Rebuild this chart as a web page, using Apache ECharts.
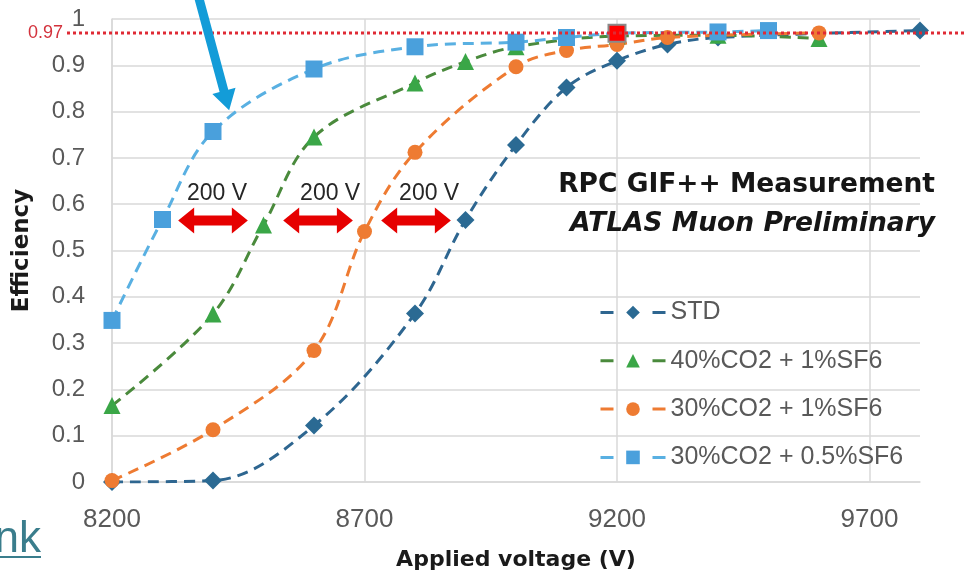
<!DOCTYPE html>
<html>
<head>
<meta charset="utf-8">
<script src="https://cdn.jsdelivr.net/npm/echarts@6/dist/echarts.min.js"></script>
<style>
  html, body { margin: 0; padding: 0; background: #ffffff; }
  #chart { width: 966px; height: 574px; }
</style>
</head>
<body>
<div id="chart"></div>
<script>
// Gas mixtures in legend order
const seriesNames = ['STD', '40%CO2 + 1%SF6', '30%CO2 + 1%SF6', '30%CO2 + 0.5%SF6'];

// Applied voltage (V) and efficiency for each mixture
const stdVoltage = [8200, 8400, 8600, 8800, 8900, 9000, 9100, 9200, 9300, 9400, 9800];
const stdEfficiency = [0.0, 0.003, 0.122, 0.364, 0.566, 0.728, 0.852, 0.910, 0.945, 0.960, 0.975];

const co2p40sf6p1Voltage = [8200, 8400, 8500, 8600, 8800, 8900, 9000, 9200, 9400, 9600];
const co2p40sf6p1Efficiency = [0.165, 0.363, 0.555, 0.745, 0.862, 0.908, 0.940, 0.963, 0.965, 0.958];

const co2p30sf6p1Voltage = [8200, 8400, 8600, 8700, 8800, 9000, 9100, 9200, 9300, 9600];
const co2p30sf6p1Efficiency = [0.003, 0.113, 0.284, 0.541, 0.712, 0.897, 0.932, 0.945, 0.960, 0.970];

const co2p30sf6p05Voltage = [8200, 8300, 8400, 8600, 8800, 9000, 9100, 9200, 9400, 9500];
const co2p30sf6p05Efficiency = [0.349, 0.567, 0.757, 0.892, 0.940, 0.950, 0.960, 0.969, 0.972, 0.975];

// Axis ticks
const voltageTicks = [8200, 8700, 9200, 9700];
const efficiencyTicks = [0, 0.1, 0.2, 0.3, 0.4, 0.5, 0.6, 0.7, 0.8, 0.9, 1];

// Reference efficiency level and the 200 V shifts between neighbouring curves
const referenceEfficiency = 0.97;
const highlightVoltage = 9200;
const shiftSpans = [[8331, 8469], [8539, 8677], [8733, 8871]];
const shiftLevel = 0.565;
const shiftLabelVoltages = [8408, 8632, 8828];
const shiftLabelLevel = 0.623;
const shiftLabel = '200 V';
const pointerTip = [8432, 0.803];

const colors = {
  std: '#2b6a93',
  stdLine: '#2e6690',
  green: '#3aa647',
  greenLine: '#4a8a3c',
  orange: '#ee7b32',
  blue: '#4aa0dc',
  blueLine: '#59b0e2'
};

const dash = [11, 7];

function pairs(xs, ys) {
  return xs.map((x, i) => [x, ys[i]]);
}

function makeSeries(name, xs, ys, symbol, size, fill, line) {
  return {
    name: name,
    type: 'line',
    smooth: 0.35,
    symbol: symbol,
    symbolSize: size,
    data: pairs(xs, ys),
    itemStyle: { color: fill },
    lineStyle: { color: line, width: 3, type: dash },
    emphasis: { disabled: true },
    z: 3
  };
}

const blueSeries = makeSeries(seriesNames[3], co2p30sf6p05Voltage, co2p30sf6p05Efficiency,
  'rect', 17, colors.blue, colors.blueLine);
blueSeries.data = blueSeries.data.map(p => p[0] === highlightVoltage
  ? { value: p, itemStyle: { color: '#ff0000', borderColor: '#8a8a8a', borderWidth: 2 } }
  : p);

const series = [
  makeSeries(seriesNames[0], stdVoltage, stdEfficiency, 'diamond', 18, colors.std, colors.stdLine),
  makeSeries(seriesNames[1], co2p40sf6p1Voltage, co2p40sf6p1Efficiency, 'triangle', 17, colors.green, colors.greenLine),
  makeSeries(seriesNames[2], co2p30sf6p1Voltage, co2p30sf6p1Efficiency, 'circle', 15, colors.orange, colors.orange),
  blueSeries
];

const chart = echarts.init(document.getElementById('chart'), null, { renderer: 'canvas' });

const axisFont = '"Liberation Sans", Arial, sans-serif';
const titleFont = '"DejaVu Sans", "Liberation Sans", sans-serif';

chart.setOption({
  animation: false,
  backgroundColor: '#ffffff',
  grid: { left: 112, right: 46, top: 19, bottom: 92, containLabel: false, outerBoundsMode: 'none' },
  xAxis: {
    type: 'value',
    min: 8200,
    max: 9800,
    interval: 500,
    name: 'Applied voltage (V)',
    nameLocation: 'middle',
    nameGap: 67,
    nameTextStyle: { fontFamily: titleFont, fontWeight: 'bold', fontSize: 22, color: '#1a1a1a' },
    axisLine: { show: true, lineStyle: { color: '#d9d9d9', width: 1.5 } },
    axisTick: { show: false },
    axisLabel: {
      margin: 25,
      fontFamily: axisFont,
      fontSize: 26,
      color: '#595959',
      formatter: v => voltageTicks.includes(v) ? String(v) : ''
    },
    splitLine: { show: true, showMinLine: true, showMaxLine: false, lineStyle: { color: '#d9d9d9', width: 1.5 } }
  },
  yAxis: {
    type: 'value',
    min: 0,
    max: 1,
    interval: 0.1,
    name: 'Efficiency',
    nameLocation: 'middle',
    nameGap: 78,
    nameTextStyle: { fontFamily: titleFont, fontWeight: 'bold', fontSize: 23, color: '#1a1a1a' },
    axisLine: { show: true, lineStyle: { color: '#d9d9d9', width: 1.5 } },
    axisTick: { show: false },
    axisLabel: {
      margin: 27,
      fontFamily: axisFont,
      fontSize: 24,
      color: '#595959',
      formatter: v => {
        const t = efficiencyTicks.find(e => Math.abs(e - v) < 1e-6);
        return t === undefined ? '' : String(t);
      }
    },
    splitLine: { show: true, lineStyle: { color: '#d9d9d9', width: 1.5 } }
  },
  legend: {
    orient: 'vertical',
    left: 594,
    top: 295,
    itemWidth: 65,
    itemHeight: 17,
    itemGap: 23.3,
    lineStyle: { type: [13, 39], width: 3 },
    textStyle: { fontFamily: axisFont, fontSize: 25, color: '#595959', lineHeight: 25 },
    data: seriesNames
  },
  series: series
});

// Annotations placed in data coordinates
function toPx(v, e) {
  return chart.convertToPixel({ gridIndex: 0 }, [v, e]);
}

const graphics = [];

// Dotted reference line at 0.97 with its label
const refY = toPx(8200, referenceEfficiency)[1];
graphics.push({
  type: 'line',
  shape: { x1: 67, y1: refY, x2: 966, y2: refY },
  style: { stroke: '#df2a35', lineWidth: 3, lineDash: [3, 3] },
  z: 10
});
graphics.push({
  type: 'text',
  x: 63, y: refY,
  style: {
    text: String(referenceEfficiency), fill: '#d3323c', font: '18px "Liberation Sans", Arial, sans-serif',
    align: 'right', verticalAlign: 'middle'
  },
  z: 10
});

// Double-headed arrows marking the 200 V shifts
function doubleArrow(x1, x2, y) {
  const t = 5, H = 13, h = 16;
  return [
    [x1, y], [x1 + h, y - H], [x1 + h, y - t], [x2 - h, y - t], [x2 - h, y - H],
    [x2, y], [x2 - h, y + H], [x2 - h, y + t], [x1 + h, y + t], [x1 + h, y + H]
  ];
}
shiftSpans.forEach(([a, b], i) => {
  const p1 = toPx(a, shiftLevel);
  const p2 = toPx(b, shiftLevel);
  graphics.push({
    type: 'polygon',
    shape: { points: doubleArrow(p1[0], p2[0], p1[1]) },
    style: { fill: '#e60000' },
    z: 12
  });
  const lp = toPx(shiftLabelVoltages[i], shiftLabelLevel);
  graphics.push({
    type: 'text',
    x: lp[0], y: lp[1],
    style: {
      text: shiftLabel, fill: '#262626', font: '23px "Liberation Sans", Arial, sans-serif',
      align: 'center', verticalAlign: 'middle'
    },
    z: 12
  });
});

// Pointer arrow onto the 30%CO2 + 0.5%SF6 curve
(function () {
  const tip = toPx(pointerTip[0], pointerTip[1]);
  const dx = 0.27, dy = 1;
  const len = Math.hypot(dx, dy);
  const ux = dx / len, uy = dy / len;
  const nx = -uy, ny = ux;
  const headLen = 20, headHalf = 12, shaftHalf = 4.5;
  const bx = tip[0] - ux * headLen, by = tip[1] - uy * headLen;
  const tx = tip[0] - ux * 140, ty = tip[1] - uy * 140;
  graphics.push({
    type: 'polygon',
    shape: {
      points: [
        [tx + nx * shaftHalf, ty + ny * shaftHalf],
        [bx + nx * shaftHalf, by + ny * shaftHalf],
        [bx + nx * headHalf, by + ny * headHalf],
        [tip[0], tip[1]],
        [bx - nx * headHalf, by - ny * headHalf],
        [bx - nx * shaftHalf, by - ny * shaftHalf],
        [tx - nx * shaftHalf, ty - ny * shaftHalf]
      ]
    },
    style: { fill: '#139cd8' },
    z: 14
  });
})();

// Measurement caption
graphics.push({
  type: 'text',
  x: 935, y: 185,
  style: {
    text: 'RPC GIF++ Measurement', fill: '#161616',
    font: 'bold 26.5px "DejaVu Sans", "Liberation Sans", sans-serif',
    align: 'right', verticalAlign: 'middle'
  },
  z: 12
});
graphics.push({
  type: 'text',
  x: 935, y: 224,
  style: {
    text: 'ATLAS Muon Preliminary', fill: '#161616',
    font: 'italic bold 26.5px "DejaVu Sans", "Liberation Sans", sans-serif',
    align: 'right', verticalAlign: 'middle'
  },
  z: 12
});

// Link text at the lower left
graphics.push({
  type: 'text',
  x: 41, y: 540,
  style: {
    text: 'nk', fill: '#3a7d8c',
    font: '44px "Liberation Sans", Arial, sans-serif',
    align: 'right', verticalAlign: 'middle'
  },
  z: 12
});
graphics.push({
  type: 'line',
  shape: { x1: 0, y1: 557, x2: 41, y2: 557 },
  style: { stroke: '#3a7d8c', lineWidth: 2 },
  z: 12
});

chart.setOption({ graphic: graphics });
</script>
</body>
</html>
